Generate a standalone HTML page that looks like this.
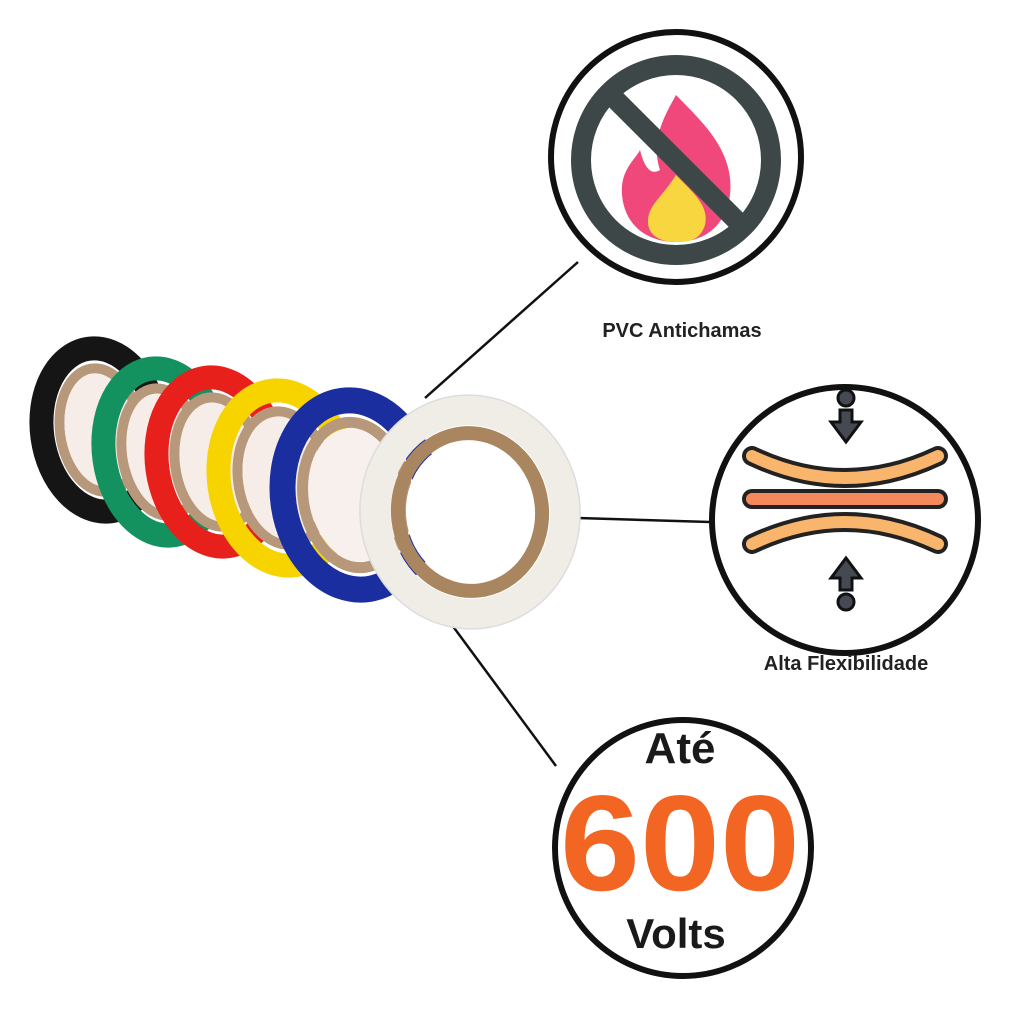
<!DOCTYPE html>
<html><head><meta charset="utf-8"><style>
html,body{margin:0;padding:0;background:#fff;}
svg{display:block;}
text{font-family:"Liberation Sans",sans-serif;font-weight:bold;}
</style></head><body>
<svg width="1024" height="1024" viewBox="0 0 1024 1024">
<rect width="1024" height="1024" fill="#fff"/>
<g stroke="#111" stroke-width="2.5">
<line x1="425" y1="398" x2="578" y2="262"/>
<line x1="578" y1="518" x2="710" y2="522"/>
<line x1="452" y1="625" x2="556" y2="766"/>
</g>
<g>
<g transform="translate(100,430) rotate(-8)"><ellipse rx="58" ry="82" fill="none" stroke="#151515" stroke-width="24"/><ellipse rx="40" ry="62" fill="none" stroke="#b8987a" stroke-width="10"/><ellipse rx="35" ry="57" fill="#f6ede8"/></g>
<g transform="translate(162,452) rotate(-8)"><ellipse rx="58" ry="84" fill="none" stroke="#13915f" stroke-width="24"/><ellipse rx="40" ry="64" fill="none" stroke="#b8987a" stroke-width="10"/><ellipse rx="35" ry="59" fill="#f6ede8"/></g>
<g transform="translate(217,462) rotate(-8)"><ellipse rx="60" ry="85" fill="none" stroke="#e8201c" stroke-width="24"/><ellipse rx="42" ry="65" fill="none" stroke="#b8987a" stroke-width="10"/><ellipse rx="37" ry="60" fill="#f6ede8"/></g>
<g transform="translate(283,478) rotate(-8)"><ellipse rx="64" ry="88" fill="none" stroke="#f7d400" stroke-width="24"/><ellipse rx="45" ry="67" fill="none" stroke="#b8987a" stroke-width="10"/><ellipse rx="40" ry="62" fill="#f6ede8"/></g>
<g transform="translate(355,495) rotate(-8)"><ellipse rx="72" ry="95" fill="none" stroke="#1a2ea0" stroke-width="26"/><ellipse rx="52" ry="73" fill="none" stroke="#b8987a" stroke-width="11"/><ellipse rx="46" ry="67" fill="#f8f0ec"/></g>
<g transform="translate(470,512) rotate(-6)"><ellipse rx="95" ry="102" fill="none" stroke="#f0ede6" stroke-width="30"/><ellipse rx="110" ry="117" fill="none" stroke="#ddd" stroke-width="1.5"/><ellipse rx="72" ry="79" fill="none" stroke="#a9865f" stroke-width="14"/><ellipse rx="64" ry="71" fill="#fff"/></g>
</g>
<circle cx="676" cy="157" r="125" fill="#fff" stroke="#111" stroke-width="6"/>
<path d="M676 95 C700 120 735 150 730 195 C725 230 700 242 676 242 C650 242 625 228 622 195 C620 170 635 160 640 150 C645 170 652 175 660 170 C650 140 665 115 676 95Z" fill="#f0487a"/>
<path d="M676 175 C690 190 710 205 705 225 C700 240 690 242 676 242 C660 242 648 235 648 222 C648 205 660 200 676 175Z" fill="#f7d640"/>
<circle cx="676" cy="160" r="95" fill="none" stroke="#3d4747" stroke-width="20"/>
<line x1="608" y1="92" x2="744" y2="228" stroke="#3d4747" stroke-width="20"/>
<text x="682" y="337" font-size="20" text-anchor="middle" fill="#222">PVC Antichamas</text>
<circle cx="845" cy="520" r="133" fill="#fff" stroke="#111" stroke-width="6"/>
<g>
<path d="M752 456 Q845 500 938 456" fill="none" stroke="#222" stroke-width="20" stroke-linecap="round"/>
<path d="M752 456 Q845 500 938 456" fill="none" stroke="#f9b56c" stroke-width="12" stroke-linecap="round"/>
<line x1="752" y1="499" x2="938" y2="499" stroke="#222" stroke-width="20" stroke-linecap="round"/>
<line x1="752" y1="499" x2="938" y2="499" stroke="#f48a5c" stroke-width="12" stroke-linecap="round"/>
<path d="M752 544 Q845 500 938 544" fill="none" stroke="#222" stroke-width="20" stroke-linecap="round"/>
<path d="M752 544 Q845 500 938 544" fill="none" stroke="#f9b56c" stroke-width="12" stroke-linecap="round"/>
</g>
<g fill="#454a52" stroke="#111" stroke-width="3">
<circle cx="846" cy="398" r="8"/><path d="M840 410 h12 v12 h9 l-15 20 l-15 -20 h9z"/>
<circle cx="846" cy="602" r="8"/><path d="M840 590 h12 v-12 h9 l-15 -20 l-15 20 h9z"/>
</g>
<text x="846" y="670" font-size="20" text-anchor="middle" fill="#222">Alta Flexibilidade</text>
<circle cx="683" cy="848" r="128" fill="#fff" stroke="#111" stroke-width="6"/>
<text x="680" y="763" font-size="44" text-anchor="middle" fill="#1a1a1a">Até</text>
<text x="680" y="890" font-size="136" text-anchor="middle" fill="#f26522" textLength="240" lengthAdjust="spacingAndGlyphs">600</text>
<text x="676" y="948" font-size="42" text-anchor="middle" fill="#1a1a1a">Volts</text>
</svg>
</body></html>
